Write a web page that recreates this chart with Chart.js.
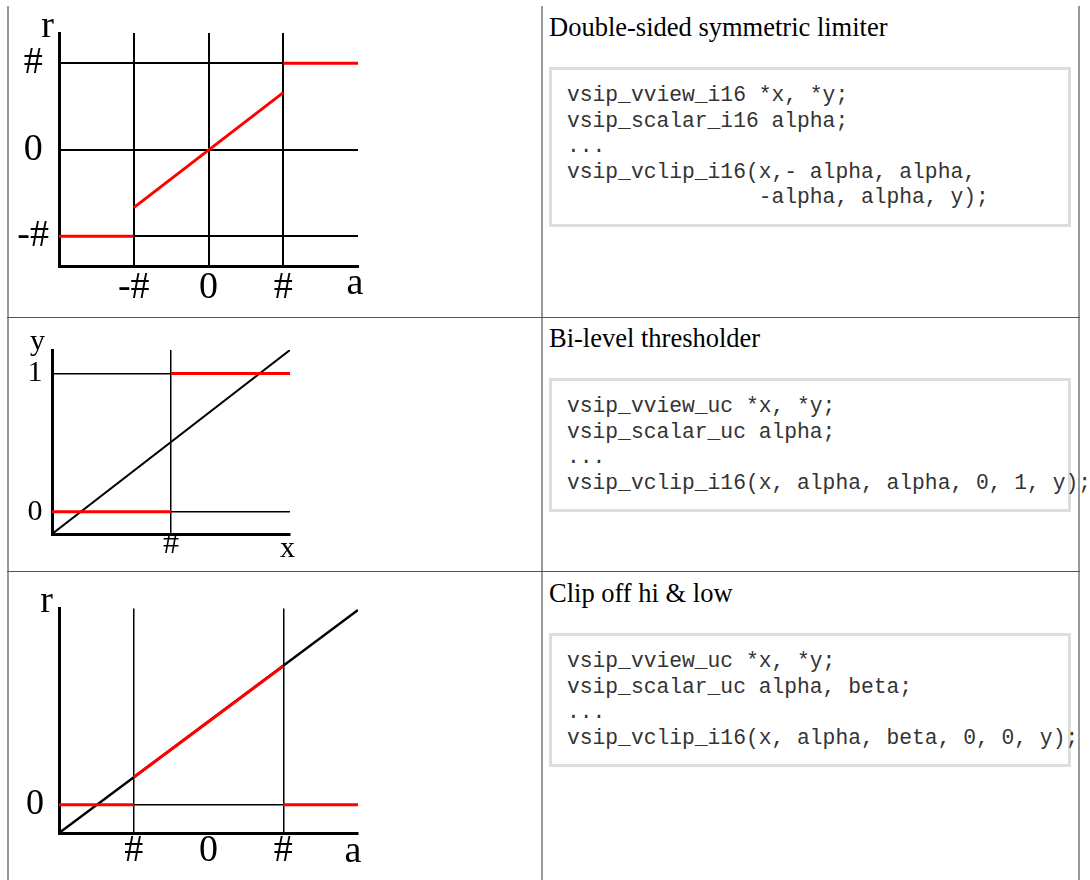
<!DOCTYPE html>
<html>
<head>
<meta charset="utf-8">
<script src="https://cdn.jsdelivr.net/npm/chart.js@4"></script>
<style>
  body { margin: 0; background: #fff; width: 1090px; height: 880px; overflow: hidden; position: relative; }
  canvas { position: absolute; left: 0; }
  .vline { position: absolute; width: 2px; top: 6px; height: 874px; background: #999; z-index: 2; }
  .hline { position: absolute; left: 7px; width: 1073px; height: 1px; background: #555; z-index: 2; }
  .title { position: absolute; left: 549px; font: 26.5px/26.5px "Liberation Serif", "Times New Roman", serif; color: #000; white-space: nowrap; }
  pre {
    position: absolute; left: 549px; margin: 0; box-sizing: border-box; width: 522px;
    border: 3px solid #ddd; padding: 13px 15px;
    font: 21.3px/25.6px "Liberation Mono", "Courier New", monospace; color: #333;
    white-space: pre; overflow: visible; z-index: 3;
  }
</style>
</head>
<body>
<div class="vline" style="left:7px"></div>
<div class="vline" style="left:541px"></div>
<div class="vline" style="left:1078px"></div>
<div class="hline" style="top:317px"></div>
<div class="hline" style="top:571px"></div>

<canvas id="limiter" width="540" height="316" style="top:0px"></canvas>
<canvas id="threshold" width="540" height="252" style="top:318px"></canvas>
<canvas id="clip" width="540" height="308" style="top:572px"></canvas>

<div class="title" style="top:14px">Double-sided symmetric limiter</div>
<pre style="top:67px">vsip_vview_i16 *x, *y;
vsip_scalar_i16 alpha;
...
vsip_vclip_i16(x,- alpha, alpha,
               -alpha, alpha, y);</pre>

<div class="title" style="top:325px">Bi-level thresholder</div>
<pre style="top:378px">vsip_vview_uc *x, *y;
vsip_scalar_uc alpha;
...
vsip_vclip_i16(x, alpha, alpha, 0, 1, y);</pre>

<div class="title" style="top:580px">Clip off hi &amp; low</div>
<pre style="top:633px">vsip_vview_uc *x, *y;
vsip_scalar_uc alpha, beta;
...
vsip_vclip_i16(x, alpha, beta, 0, 0, y);</pre>

<script>
"use strict";

// double-sided symmetric limiter
const limXRange = [-2, 2], limYRange = [-1.345, 1.35];
const limXTicks = [-1, 0, 1], limXLabels = ['-#', '0', '#'], limXGrid = [-1, 0, 1];
const limYTicks = [-1, 0, 1], limYLabels = ['-#', '0', '#'];
const limLowX = [-2, -1], limLowY = [-1, -1];
const limRampX = [-1, 1], limRampY = [-0.67, 0.66];
const limHighX = [1, 2], limHighY = [1, 1];

// bi-level thresholder
const thrXRange = [0, 2], thrYRange = [-0.16, 1.17];
const thrXTicks = [1], thrXLabels = ['#'], thrXGrid = [1];
const thrYTicks = [0, 1], thrYLabels = ['0', '1'];
const thrInX = [0, 2], thrInY = [-0.16, 1.17];
const thrLowX = [0, 1], thrLowY = [0, 0];
const thrHighX = [1, 2], thrHighY = [1, 1];

// clip off hi & low
const clipXRange = [-2, 2], clipYRange = [-0.387, 2.7];
const clipXTicks = [-1, 0, 1], clipXLabels = ['#', '0', '#'], clipXGrid = [-1, 1];
const clipYTicks = [0], clipYLabels = ['0'];
const clipInX = [-2, 2], clipInY = [-0.387, 2.68];
const clipLowX = [-2, -1], clipLowY = [0, 0];
const clipMidX = [-1, 1], clipMidY = [0.38, 1.91];
const clipHighX = [1, 2], clipHighY = [0, 0];

const serif = '"Liberation Serif", "Times New Roman", serif';

function pts(xs, ys) {
    return xs.map((x, i) => ({ x: x, y: ys[i] }));
}

function segment(xs, ys, color, width) {
    return { data: pts(xs, ys), borderColor: color, borderWidth: width, showLine: true, pointRadius: 0, fill: false };
}

// draws the axis names ("a", "r", ...) next to the axes
const axisNames = {
    id: 'axisNames',
    afterDraw(chart, args, o) {
        const { ctx, chartArea } = chart;
        ctx.save();
        ctx.font = o.size + 'px ' + serif;
        ctx.fillStyle = '#000';
        ctx.textAlign = 'center';
        ctx.textBaseline = 'alphabetic';
        ctx.fillText(o.x, chartArea.right + o.xdx, chartArea.bottom + o.xdy);
        ctx.fillText(o.y, chartArea.left + o.ydx, chartArea.top + o.ydy);
        ctx.restore();
    }
};

function makeChart(id, s) {
    return new Chart(document.getElementById(id), {
        type: 'scatter',
        data: { datasets: s.datasets },
        plugins: [axisNames],
        options: {
            responsive: false,
            animation: false,
            events: [],
            layout: { padding: s.padding },
            plugins: {
                legend: { display: false },
                tooltip: { enabled: false },
                axisNames: s.names
            },
            scales: {
                x: {
                    type: 'linear', min: s.xRange[0], max: s.xRange[1],
                    afterBuildTicks: sc => { sc.ticks = s.xTicks.map(v => ({ value: v })); },
                    afterFit: sc => { sc.height = s.xHeight; },
                    ticks: {
                        autoSkip: false, maxRotation: 0, color: '#000', padding: s.xPad,
                        font: { family: serif, size: s.xFont },
                        callback: (v, i) => s.xLabels[i]
                    },
                    grid: {
                        drawTicks: false, lineWidth: s.gridWidth,
                        color: c => (c.tick && s.xGrid.includes(c.tick.value)) ? '#000' : 'rgba(0,0,0,0)'
                    },
                    border: { color: '#000', width: 3 }
                },
                y: {
                    type: 'linear', min: s.yRange[0], max: s.yRange[1],
                    afterBuildTicks: sc => { sc.ticks = s.yTicks.map(v => ({ value: v })); },
                    afterFit: sc => { sc.width = s.yWidth; },
                    ticks: {
                        autoSkip: false, color: '#000', padding: s.yPad, crossAlign: 'center',
                        font: { family: serif, size: s.yFont },
                        callback: (v, i) => s.yLabels[i]
                    },
                    grid: { drawTicks: false, lineWidth: s.gridWidth, color: '#000' },
                    border: { color: '#000', width: 3 }
                }
            }
        }
    });
}

makeChart('limiter', {
    xRange: limXRange, yRange: limYRange,
    xTicks: limXTicks, xLabels: limXLabels, xGrid: limXGrid,
    yTicks: limYTicks, yLabels: limYLabels,
    xFont: 38, yFont: 38, gridWidth: 2, xPad: -1, yPad: 10, xHeight: 40, yWidth: 59,
    padding: { left: 0, top: 33, right: 182, bottom: 10 },
    names: { x: 'a', y: 'r', size: 38, xdx: -3, xdy: 28, ydx: -11.5, ydy: 4 },
    datasets: [
        segment(limLowX, limLowY, '#ff0000', 3),
        segment(limRampX, limRampY, '#ff0000', 3),
        segment(limHighX, limHighY, '#ff0000', 3)
    ]
});

makeChart('threshold', {
    xRange: thrXRange, yRange: thrYRange,
    xTicks: thrXTicks, xLabels: thrXLabels, xGrid: thrXGrid,
    yTicks: thrYTicks, yLabels: thrYLabels,
    xFont: 32, yFont: 30, gridWidth: 1.5, xPad: -9, yPad: 9.5, xHeight: 30, yWidth: 52,
    padding: { left: 0, top: 32, right: 250, bottom: 6 },
    names: { x: 'x', y: 'y', size: 30, xdx: -2.5, xdy: 23, ydx: -14.5, ydy: 0 },
    datasets: [
        segment(thrLowX, thrLowY, '#ff0000', 3),
        segment(thrHighX, thrHighY, '#ff0000', 3),
        segment(thrInX, thrInY, '#000', 2)
    ]
});

makeChart('clip', {
    xRange: clipXRange, yRange: clipYRange,
    xTicks: clipXTicks, xLabels: clipXLabels, xGrid: clipXGrid,
    yTicks: clipYTicks, yLabels: clipYLabels,
    xFont: 38, yFont: 36, gridWidth: 1.5, xPad: -5, yPad: 15, xHeight: 40, yWidth: 59,
    padding: { left: 0, top: 30, right: 182, bottom: 7 },
    names: { x: 'a', y: 'r', size: 38, xdx: -5, xdy: 29, ydx: -12.5, ydy: 3 },
    datasets: [
        segment(clipLowX, clipLowY, '#ff0000', 3),
        segment(clipMidX, clipMidY, '#ff0000', 3),
        segment(clipHighX, clipHighY, '#ff0000', 3),
        segment(clipInX, clipInY, '#000', 2.5)
    ]
});
</script>
</body>
</html>
